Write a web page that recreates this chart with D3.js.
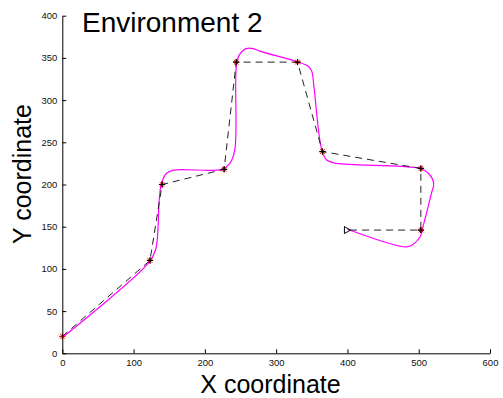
<!DOCTYPE html>
<html><head><meta charset="utf-8">
<script src="https://cdn.jsdelivr.net/npm/d3@7"></script>
<style>body{margin:0;background:#fff}svg{display:block}</style>
</head><body>
<svg id="c" width="503" height="398"></svg>
<script>
const title = "Environment 2";
const xLabel = "X coordinate";
const yLabel = "Y coordinate";
const xTicks = [0,100,200,300,400,500,600];
const yTicks = [0,50,100,150,200,250,300,350,400];
// planned waypoints (dashed line)
const waypointX = [0,123,140,227,244,330,365,503,503,400];
const waypointY = [20,110,200,218,345,345,239,219,146,146];
// actual trajectory (magenta)
const pathX = [2,121,131,136,139,146,156,224,235,242,244,248,258,268,277,331,345,350,353,364,371,385,502,514,521,518,506,502,492,483,400];
const pathY = [20,107,123,182,201,213,217,218,225,241,339,353,361,361,358,345,340,334,316,241,229,225,219,213,201,190,150,138,129,126,147];

const svg = d3.select("#c");
const x = d3.scaleLinear().domain([0,600]).range([62.3,490]);
const y = d3.scaleLinear().domain([0,400]).range([353.3,15.7]);
const font = "'Liberation Sans', Arial, sans-serif";

const wp = waypointX.map((d,i)=>[d,waypointY[i]]);
const tr = pathX.map((d,i)=>[d,pathY[i]]);

svg.append("path").datum(tr)
  .attr("d", d3.line().x(d=>x(d[0])).y(d=>y(d[1])).curve(d3.curveCatmullRom.alpha(0.5)))
  .attr("fill","none").attr("stroke","#ff00ff").attr("stroke-width",1.2);

svg.append("path").datum(wp)
  .attr("d", d3.line().x(d=>x(d[0])).y(d=>y(d[1])))
  .attr("fill","none").attr("stroke","#222").attr("stroke-width",1)
  .attr("stroke-dasharray","7,5");

const mk = svg.append("g");
wp.forEach((d,i)=>{
  const cx = x(d[0]), cy = y(d[1]);
  if (i === wp.length-1) {
    mk.append("path").attr("d",`M${cx-3},${cy-3.5}L${cx-3},${cy+3.5}L${cx+3},${cy}Z`)
      .attr("fill","none").attr("stroke","#000").attr("stroke-width",1);
    return;
  }
  const r = 3.2, q = 2.3;
  mk.append("path").attr("d",`M${cx-r},${cy}H${cx+r}M${cx},${cy-r}V${cy+r}M${cx-q},${cy-q}L${cx+q},${cy+q}M${cx-q},${cy+q}L${cx+q},${cy-q}`)
    .attr("stroke","#ff0000").attr("stroke-width",1);
  if (i > 0) {
    mk.append("path").attr("d",`M${cx-3},${cy}H${cx+3}M${cx},${cy-3}V${cy+3}`)
      .attr("stroke","#000").attr("stroke-width",1.2);
  }
});

const gx = svg.append("g").attr("transform",`translate(0,${y(0)})`)
  .call(d3.axisBottom(x).tickValues(xTicks).tickSize(-4).tickPadding(6).tickSizeOuter(0));
const gy = svg.append("g").attr("transform",`translate(${x(0)},0)`)
  .call(d3.axisLeft(y).tickValues(yTicks).tickSize(-4).tickPadding(5).tickSizeOuter(0));
[gx,gy].forEach(g=>{
  g.selectAll("text").attr("font-family",font).attr("font-size",9.5).attr("fill","#111");
  g.selectAll("line,path").attr("stroke","#000");
});

svg.append("text").attr("x",82).attr("y",31.5).attr("font-family",font).attr("font-size",28)
  .attr("fill","#000").text(title);
svg.append("text").attr("x",270.5).attr("y",392.5).attr("text-anchor","middle")
  .attr("font-family",font).attr("font-size",25).attr("fill","#000").text(xLabel);
svg.append("text").attr("transform","translate(31,174) rotate(-90)").attr("text-anchor","middle")
  .attr("font-family",font).attr("font-size",25).attr("fill","#000").text(yLabel);
</script>
</body></html>
